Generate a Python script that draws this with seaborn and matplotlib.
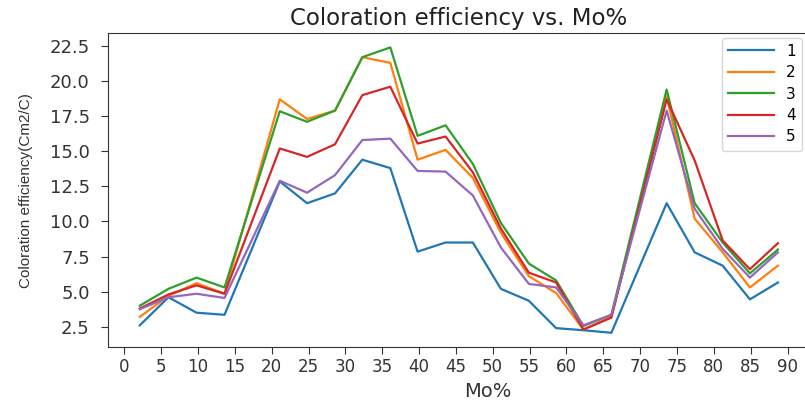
import numpy as np
import pandas as pd
import matplotlib
matplotlib.use("Agg")
import matplotlib.pyplot as plt
from matplotlib.ticker import MultipleLocator
import seaborn as sns

# Mo% sample positions
mo_pct = [2.1, 6.0, 9.8, 13.6, 21.1, 24.8, 28.6, 32.3, 36.1, 39.8, 43.6,
          47.3, 51.1, 54.9, 58.6, 62.3, 66.1, 73.6, 77.4, 81.2, 84.9, 88.7]

# coloration efficiency (cm2/C) for each series
ce_1 = [2.6, 4.6, 3.5, 3.35, 12.85, 11.3, 12.0, 14.4, 13.8, 7.85, 8.5,
        8.5, 5.2, 4.35, 2.4, 2.25, 2.07, 11.3, 7.8, 6.85, 4.45, 5.65]
ce_2 = [3.2, 4.7, 5.6, 4.85, 18.7, 17.3, 17.9, 21.7, 21.3, 14.4, 15.1,
        13.1, 9.2, 6.1, 4.9, 2.3, 3.2, 18.9, 10.2, 7.8, 5.3, 6.85]
ce_3 = [4.0, 5.2, 6.0, 5.3, 17.85, 17.1, 17.9, 21.7, 22.4, 16.1, 16.85,
        14.1, 9.9, 7.0, 5.8, 2.55, 3.35, 19.4, 11.3, 8.5, 6.3, 8.0]
ce_4 = [3.8, 4.8, 5.45, 4.85, 15.2, 14.6, 15.5, 19.0, 19.6, 15.55, 16.05,
        13.5, 9.5, 6.35, 5.65, 2.3, 3.15, 18.7, 14.35, 8.65, 6.6, 8.45]
ce_5 = [3.75, 4.6, 4.85, 4.55, 12.9, 12.05, 13.3, 15.8, 15.9, 13.6, 13.55,
        11.85, 8.15, 5.55, 5.3, 2.6, 3.35, 17.9, 10.9, 8.05, 6.0, 7.8]

series_names = ["1", "2", "3", "4", "5"]
series_vals = [ce_1, ce_2, ce_3, ce_4, ce_5]

df = pd.concat(
    [pd.DataFrame({"Mo%": mo_pct, "ce": v, "series": n})
     for n, v in zip(series_names, series_vals)],
    ignore_index=True)

fig = plt.figure(figsize=(8.05, 4.04), dpi=100)
ax = fig.add_axes([0.134, 0.141, 0.872, 0.777])

sns.lineplot(data=df, x="Mo%", y="ce", hue="series",
             palette=sns.color_palette("tab10", 5), lw=1.6, ax=ax)

ax.xaxis.set_major_locator(MultipleLocator(5))
ax.yaxis.set_major_locator(MultipleLocator(2.5))
ax.tick_params(axis="both", length=5, colors="#333333")
ax.tick_params(axis="x", labelsize=12, pad=3)
ax.tick_params(axis="y", labelsize=13, pad=8)
for sp in ax.spines.values():
    sp.set_color("#333333")

ax.set_title("Coloration efficiency vs. Mo%", fontsize=16.5, color="#222222")
ax.set_xlabel("Mo%", fontsize=14, color="#333333")
ax.xaxis.set_label_coords(0.541, -0.11)
ax.set_ylabel("Coloration efficiency(Cm2/C)", fontsize=11,
              family="Liberation Sans", color="#333333", labelpad=12)

handles, labels = ax.get_legend_handles_labels()
ax.legend(handles, labels, loc="upper right", fontsize=11, handlelength=3,
          labelspacing=0.42, borderaxespad=0.3,
          bbox_to_anchor=(0.995, 1.0))

fig.savefig("out.png", dpi=100)
